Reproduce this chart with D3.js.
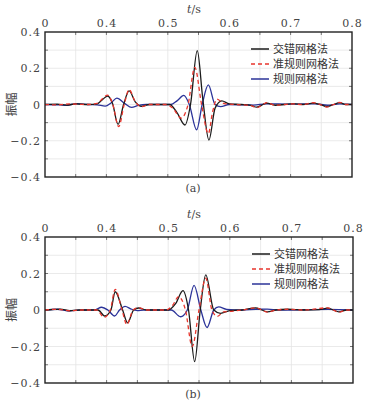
<!DOCTYPE html>
<html>
<head>
<meta charset="utf-8">
<script src="https://cdn.jsdelivr.net/npm/d3@7"></script>
<style>
  html, body { margin: 0; padding: 0; background: #fff; }
  svg { display: block; }
</style>
</head>
<body>
<div id="chart"></div>
<script>
// tick values and labels (the first top tick sits at 0.3 but is printed "0" in the source figure)
var xTickValues = [0.3, 0.4, 0.5, 0.6, 0.7, 0.8];
var xTickLabels = ["0", "0.4", "0.5", "0.6", "0.7", "0.8"];
var xGridValues = [0.35, 0.4, 0.45, 0.5, 0.55, 0.6, 0.65, 0.7, 0.75];
var yTickValues = [0.4, 0.2, 0, -0.2, -0.4];
var yTickLabels = ["0.4", "0.2", "0", "\u22120.2", "\u22120.4"];
var yGridValues = [0.3, 0.2, 0.1, 0, -0.1, -0.2, -0.3];

var seriesNames = ["交错网格法", "准规则网格法", "规则网格法"];

// panel (a) traces, [t, amplitude]
var staggeredA = [[0.30, 0], [0.32, 0.002], [0.335, -0.003], [0.35, 0.003], [0.37, 0], [0.385, 0.004],
    [0.393, 0.025], [0.402, 0.047], [0.41, 0.005], [0.419, -0.11], [0.428, 0], [0.437, 0.075],
    [0.447, 0.015], [0.457, -0.01], [0.47, 0], [0.503, 0], [0.515, -0.045], [0.528, -0.113],
    [0.537, 0], [0.548, 0.297], [0.557, 0.03], [0.567, -0.196], [0.577, -0.02], [0.588, 0.02],
    [0.60, 0.004], [0.62, 0], [0.635, -0.005], [0.645, -0.015], [0.655, 0], [0.661, 0.008],
    [0.675, -0.004], [0.69, 0], [0.704, 0.005], [0.72, 0], [0.737, 0.008], [0.748, 0],
    [0.759, -0.012], [0.77, 0], [0.78, 0.01], [0.79, 0], [0.80, 0]];
var quasiA = [[0.30, 0], [0.32, -0.002], [0.34, 0.003], [0.37, 0], [0.385, 0.006], [0.393, 0.03],
    [0.402, 0.052], [0.41, 0.005], [0.42, -0.122], [0.429, 0], [0.437, 0.082], [0.447, 0.015],
    [0.457, -0.012], [0.47, 0], [0.497, 0], [0.508, -0.02], [0.522, -0.075], [0.533, 0],
    [0.544, 0.205], [0.555, 0], [0.566, -0.16], [0.573, -0.04], [0.58, 0.03], [0.592, 0.005],
    [0.61, 0], [0.635, -0.006], [0.645, -0.017], [0.655, 0], [0.661, 0.01], [0.675, -0.004],
    [0.69, 0], [0.704, 0.003], [0.72, 0], [0.737, 0.01], [0.748, 0], [0.759, -0.014],
    [0.77, 0], [0.78, 0.012], [0.79, 0], [0.80, 0]];
var regularA = [[0.30, 0], [0.325, -0.002], [0.333, -0.005], [0.352, 0.005], [0.37, 0], [0.385, -0.002],
    [0.398, -0.009], [0.408, 0.01], [0.417, 0.035], [0.43, 0.005], [0.441, -0.016], [0.452, -0.005],
    [0.465, 0], [0.505, 0], [0.515, 0.02], [0.526, 0.05], [0.535, 0], [0.547, -0.14], [0.556, 0],
    [0.566, 0.108], [0.577, 0], [0.586, -0.012], [0.60, 0], [0.64, -0.003], [0.66, 0.004],
    [0.70, 0.002], [0.74, 0.004], [0.76, -0.004], [0.78, 0.003], [0.80, 0]];

// panel (b) traces, [t, amplitude]
var staggeredB = [[0.30, 0], [0.315, 0.003], [0.325, 0.005], [0.34, -0.004], [0.355, 0], [0.386, 0],
    [0.397, -0.033], [0.407, 0], [0.414, 0.1], [0.426, 0], [0.434, -0.07], [0.444, 0],
    [0.452, 0.011], [0.465, 0], [0.50, 0], [0.512, 0.035], [0.524, 0.106], [0.533, 0],
    [0.543, -0.283], [0.552, 0], [0.561, 0.192], [0.574, 0], [0.585, -0.018], [0.60, -0.003],
    [0.62, 0], [0.642, 0.012], [0.652, 0], [0.661, -0.01], [0.675, 0], [0.694, 0.004], [0.72, 0],
    [0.745, 0.002], [0.759, 0.01], [0.768, 0], [0.777, -0.01], [0.79, 0], [0.80, 0]];
var quasiB = [[0.30, 0], [0.32, 0.004], [0.34, -0.004], [0.36, 0], [0.384, 0], [0.396, -0.04],
    [0.406, 0], [0.414, 0.113], [0.425, 0], [0.433, -0.08], [0.443, 0], [0.452, 0.012],
    [0.465, 0], [0.497, 0], [0.507, 0.025], [0.517, 0.073], [0.528, 0], [0.539, -0.2],
    [0.55, 0], [0.561, 0.174], [0.571, 0], [0.58, -0.035], [0.59, -0.01], [0.60, -0.008],
    [0.62, 0], [0.642, 0.012], [0.652, 0], [0.661, -0.012], [0.675, 0], [0.694, 0.004], [0.72, 0],
    [0.759, 0.012], [0.768, 0], [0.777, -0.012], [0.79, 0], [0.80, 0]];
var regularB = [[0.30, 0], [0.32, 0.004], [0.34, -0.005], [0.36, 0], [0.38, 0], [0.392, 0.015],
    [0.402, 0], [0.413, -0.033], [0.421, 0], [0.43, 0.02], [0.44, 0.005], [0.45, -0.003],
    [0.46, 0], [0.505, 0], [0.52, -0.037], [0.531, 0], [0.542, 0.135], [0.553, 0],
    [0.563, -0.096], [0.574, 0], [0.582, 0.017], [0.595, 0.003], [0.62, 0], [0.642, 0.004],
    [0.661, 0.005], [0.68, 0], [0.76, 0.003], [0.80, 0]];

var serifFont = "'DejaVu Serif', 'Liberation Serif', serif";
var cjkFont = "'Noto Sans CJK SC', sans-serif";
var colors = ["#1b1b1b", "#e8352c", "#2b3399"];

var svg = d3.select("#chart")
    .append("svg")
    .attr("width", 366)
    .attr("height", 407);

function drawPanel(opts) {
    var x = d3.scaleLinear().domain([0.3, 0.8]).range([opts.left, opts.right]);
    var y = d3.scaleLinear().domain([-0.4, 0.4]).range([opts.bottom, opts.top]);
    var g = svg.append("g");

    // grid
    g.selectAll(".vgrid").data(xGridValues).enter().append("line")
        .attr("x1", function (d) { return x(d); })
        .attr("x2", function (d) { return x(d); })
        .attr("y1", opts.top).attr("y2", opts.bottom)
        .attr("stroke", "#e4e4e4").attr("stroke-width", 0.8);
    g.selectAll(".hgrid").data(yGridValues).enter().append("line")
        .attr("x1", opts.left).attr("x2", opts.right)
        .attr("y1", function (d) { return y(d); })
        .attr("y2", function (d) { return y(d); })
        .attr("stroke", "#e4e4e4").attr("stroke-width", 0.8);

    // inward tick marks on all four sides
    var tl = 3;
    xGridValues.forEach(function (d) {
        g.append("line").attr("x1", x(d)).attr("x2", x(d)).attr("y1", opts.top).attr("y2", opts.top + tl)
            .attr("stroke", "#555").attr("stroke-width", 0.8);
        g.append("line").attr("x1", x(d)).attr("x2", x(d)).attr("y1", opts.bottom).attr("y2", opts.bottom - tl)
            .attr("stroke", "#555").attr("stroke-width", 0.8);
    });
    yGridValues.forEach(function (d) {
        g.append("line").attr("x1", opts.left).attr("x2", opts.left + tl).attr("y1", y(d)).attr("y2", y(d))
            .attr("stroke", "#555").attr("stroke-width", 0.8);
        g.append("line").attr("x1", opts.right).attr("x2", opts.right - tl).attr("y1", y(d)).attr("y2", y(d))
            .attr("stroke", "#555").attr("stroke-width", 0.8);
    });

    // traces
    var line = d3.line()
        .x(function (d) { return x(d[0]); })
        .y(function (d) { return y(d[1]); })
        .curve(d3.curveMonotoneX);
    // draw order: blue, black, red dashed on top
    [2, 0, 1].forEach(function (i) {
        g.append("path")
            .datum(opts.series[i])
            .attr("d", line)
            .attr("fill", "none")
            .attr("stroke", colors[i])
            .attr("stroke-width", 1.3)
            .attr("stroke-dasharray", i === 1 ? "4,3" : null);
    });

    // frame
    g.append("rect")
        .attr("x", opts.left).attr("y", opts.top)
        .attr("width", opts.right - opts.left).attr("height", opts.bottom - opts.top)
        .attr("fill", "none").attr("stroke", "#222").attr("stroke-width", 1.4);

    // top axis labels
    var xAxis = d3.axisTop(x)
        .tickValues(xTickValues)
        .tickFormat(function (d, i) { return xTickLabels[i]; })
        .tickSize(0)
        .tickPadding(5);
    var xg = g.append("g").attr("transform", "translate(0," + opts.top + ")").call(xAxis);
    xg.select(".domain").remove();
    xg.selectAll("text")
        .style("font-family", serifFont).style("font-size", "11px")
        .style("letter-spacing", "1px").attr("fill", "#444");

    // left axis labels
    var yAxis = d3.axisLeft(y)
        .tickValues(yTickValues)
        .tickFormat(function (d, i) { return yTickLabels[i]; })
        .tickSize(0)
        .tickPadding(4);
    var yg = g.append("g").attr("transform", "translate(" + opts.left + ",0)").call(yAxis);
    yg.select(".domain").remove();
    yg.selectAll("text")
        .style("font-family", serifFont).style("font-size", "11px")
        .style("letter-spacing", "1px").attr("fill", "#444");

    // axis titles
    var tTitle = g.append("text")
        .attr("x", 194).attr("y", opts.top - 19)
        .attr("text-anchor", "middle")
        .style("font-family", serifFont).style("font-size", "11px").attr("fill", "#444");
    tTitle.append("tspan").style("font-style", "italic").text("t");
    tTitle.append("tspan").text("/s");

    g.append("text")
        .attr("transform", "translate(16," + ((opts.top + opts.bottom) / 2) + ") rotate(-90)")
        .attr("text-anchor", "middle")
        .style("font-family", cjkFont).style("font-size", "12px").attr("fill", "#444")
        .text("振幅");

    g.append("text")
        .attr("x", 193).attr("y", opts.bottom + 15)
        .attr("text-anchor", "middle")
        .style("font-family", serifFont).style("font-size", "11px").attr("fill", "#444")
        .text(opts.tag);

    // legend
    seriesNames.forEach(function (name, i) {
        var ly = opts.legendTop + i * opts.legendStep;
        g.append("line")
            .attr("x1", opts.legendX).attr("x2", opts.legendX + 18)
            .attr("y1", ly).attr("y2", ly)
            .attr("stroke", colors[i]).attr("stroke-width", 1.5)
            .attr("stroke-dasharray", i === 1 ? "4,3" : null);
        g.append("text")
            .attr("x", opts.legendX + 22).attr("y", ly + 4)
            .style("font-family", cjkFont).style("font-size", "11px").attr("fill", "#333")
            .text(name);
    });
}

drawPanel({
    left: 45, right: 352, top: 32, bottom: 177, tag: "(a)",
    series: [staggeredA, quasiA, regularA],
    legendX: 251, legendTop: 49, legendStep: 15
});
drawPanel({
    left: 45, right: 353, top: 237, bottom: 383, tag: "(b)",
    series: [staggeredB, quasiB, regularB],
    legendX: 252, legendTop: 254, legendStep: 15
});
</script>
</body>
</html>
